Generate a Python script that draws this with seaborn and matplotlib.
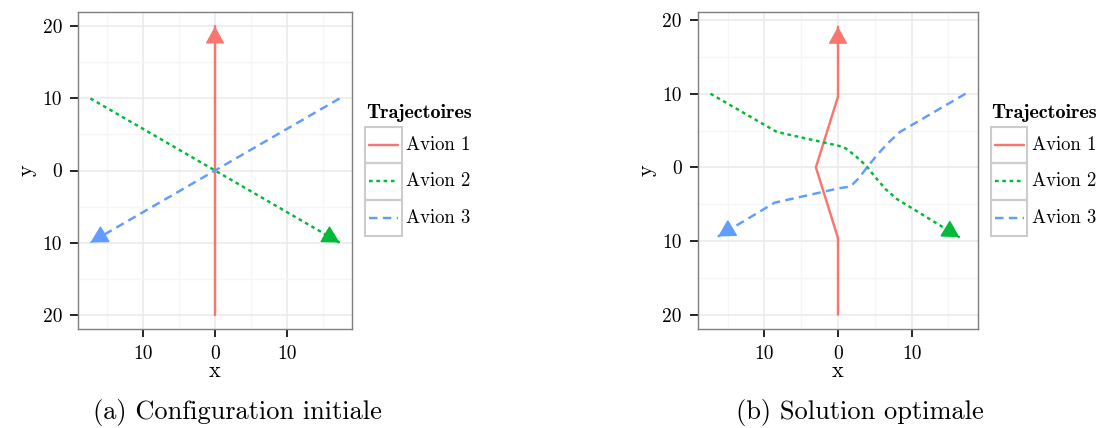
import numpy as np
import pandas as pd
import matplotlib.pyplot as plt
import seaborn as sns
from matplotlib.patches import Rectangle
from matplotlib.lines import Line2D

avions = ["Avion 1", "Avion 2", "Avion 3"]

# (a) configuration initiale
init_x1 = [0, 0]
init_y1 = [-20, 20]
init_x2 = [-17.32, 17.32]
init_y2 = [10, -10]
init_x3 = [17.32, -17.32]
init_y3 = [10, -10]

# (b) solution optimale
opt_x1 = [0, 0, -3.0, 0, 0]
opt_y1 = [-20, -9.6, 0, 9.6, 19.1]
opt_x2 = [-17.32, -8.3, 0.0, 1.0, 2.2, 3.2, 4.0, 5.2, 6.5, 8.0, 16.5]
opt_y2 = [10, 4.8, 2.95, 2.6, 1.7, 0.8, 0.0, -1.5, -3.0, -4.3, -9.5]
opt_x3 = [17.32, 8.4, 7.0, 5.5, 4.1, 2.8, 1.7, 0.1, -8.6, -16.3]
opt_y3 = [10, 4.8, 3.5, 1.9, 0.2, -1.5, -2.6, -2.85, -4.8, -9.4]

ticks = [-20, -10, 0, 10, 20]
tick_labels = ["20", "10", "0", "10", "20"]
x_ticks = [-10, 0, 10]
x_tick_labels = ["10", "0", "10"]
minor_ticks = [-15, -5, 5, 15]

captions = ["(a) Configuration initiale", "(b) Solution optimale"]

colors = ["#F8766D", "#00BA38", "#619CFF"]
palette = dict(zip(avions, colors))
dashes = {"Avion 1": "", "Avion 2": (1.5, 1.5), "Avion 3": (3.5, 2.2)}
mpl_styles = ["-", (0, (1.5, 1.5)), (0, (3.5, 2.2))]
LW = 1.75


def make_df(xs, ys):
    return pd.concat(
        [pd.DataFrame({"x": x, "y": y, "avion": a}) for a, x, y in zip(avions, xs, ys)],
        ignore_index=True,
    )


def expand(v):
    lo, hi = min(v), max(v)
    r = hi - lo
    return lo - 0.05 * r, hi + 0.05 * r


def panel(ax, df):
    sns.lineplot(data=df, x="x", y="y", hue="avion", style="avion", palette=palette,
                 dashes=dashes, sort=False, estimator=None, lw=LW, legend=False, ax=ax)
    # arrow heads at the end of each trajectory
    for a, c in zip(avions, colors):
        d = df[df.avion == a][["x", "y"]].values
        (xa, ya), (xb, yb) = d[-2], d[-1]
        n = np.hypot(xb - xa, yb - ya)
        ax.annotate("", xy=(xb, yb), xytext=(xb - 0.05 * (xb - xa) / n, yb - 0.05 * (yb - ya) / n),
                    arrowprops=dict(arrowstyle="-|>,head_length=0.9,head_width=0.5",
                                    mutation_scale=12, color=c, lw=1.0,
                                    shrinkA=0, shrinkB=0))
    ax.set_xlim(*expand(df.x))
    ax.set_ylim(*expand(df.y))
    ax.set_xticks(x_ticks, x_tick_labels)
    ax.set_yticks(ticks, tick_labels)
    ax.set_xticks(minor_ticks, minor=True)
    ax.set_yticks(minor_ticks, minor=True)
    ax.grid(which="major", color="#ebebeb", lw=1.2)
    ax.grid(which="minor", color="#f6f6f6", lw=1.0)
    ax.set_axisbelow(True)
    ax.tick_params(which="major", direction="out", length=6, width=1.2, color="black",
                   labelsize=14, labelcolor="black", pad=5.5, left=True, bottom=True)
    ax.tick_params(which="minor", length=0)
    for s in ax.spines.values():
        s.set_color("#7f7f7f")
        s.set_linewidth(1.0)
    ax.set_xlabel("x", fontsize=16, color="black", labelpad=-1)
    ax.set_ylabel("y", fontsize=16, color="black", labelpad=4)


def legend(fig, left, top):
    W, H = fig.get_size_inches() * fig.dpi
    f = lambda x, y: (x / W, 1 - y / H)
    fig.text(*f(left + 1, top - 14), "Trajectoires", family="cmb10", fontsize=14.5,
             color="black", ha="left", va="center")
    h = 36.5
    for i, (a, c, ls) in enumerate(zip(avions, colors, mpl_styles)):
        y0 = top + i * h
        x0, y1 = f(left, y0 + h)
        fig.add_artist(Rectangle((x0, y1), 36.5 / W, h / H, transform=fig.transFigure,
                                 fill=False, edgecolor="#cccccc", lw=1.5))
        fig.add_artist(Line2D([(left + 4) / W, (left + 33) / W], [1 - (y0 + h / 2) / H] * 2,
                              transform=fig.transFigure, color=c, lw=LW, linestyle=ls))
        fig.text(*f(left + 41.5, y0 + h / 2), a, fontsize=13.5, color="black",
                 ha="left", va="center")


sns.set_theme(style="white")
plt.rcParams["font.family"] = ["cmr10", "DejaVu Serif"]
plt.rcParams["axes.unicode_minus"] = False

W, H = 1112, 428
fig = plt.figure(figsize=(W / 100, H / 100), dpi=100)
ax1 = fig.add_axes([78 / W, 1 - 329 / H, 274 / W, 317 / H])
ax2 = fig.add_axes([697.7 / W, 1 - 329 / H, 280.6 / W, 316.7 / H])

panel(ax1, make_df([init_x1, init_x2, init_x3], [init_y1, init_y2, init_y3]))
panel(ax2, make_df([opt_x1, opt_x2, opt_x3], [opt_y1, opt_y2, opt_y3]))

legend(fig, 365, 126.7)
legend(fig, 990.7, 126.7)

fig.text(237.5 / W, 1 - 412 / H, captions[0], fontsize=19, color="black",
         ha="center", va="center")
fig.text(860 / W, 1 - 412 / H, captions[1], fontsize=19, color="black",
         ha="center", va="center")

fig.savefig("out.png", dpi=100)
